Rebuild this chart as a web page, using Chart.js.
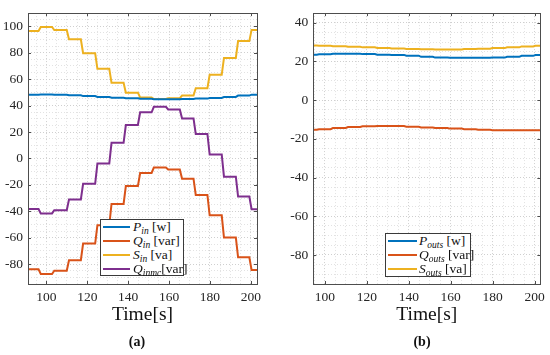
<!DOCTYPE html>
<html>
<head>
<meta charset="utf-8">
<script src="https://cdn.jsdelivr.net/npm/chart.js@4.4.1/dist/chart.umd.min.js"></script>
<style>
    body { margin: 0; background: #fff; width: 550px; height: 355px; position: relative; overflow: hidden; font-family: "Liberation Serif", serif; color: #111; }
    canvas { position: absolute; top: 0; }
    #chartA { left: 0; }
    #chartB { left: 275px; }
    .legend { position: absolute; background: #fff; border: 1px solid #3a3a3a; box-sizing: border-box; }
    .row { position: absolute; left: 0; height: 14px; width: 100%; }
    .swatch { position: absolute; top: 6px; height: 2px; }
    .lbl { position: absolute; top: 0; font-size: 13.5px; line-height: 14px; white-space: nowrap; }
    .v { font-style: italic; }
    .s { font-style: italic; font-size: 9.5px; position: relative; top: 3px; }
    .caption { position: absolute; top: 334px; font-weight: bold; font-size: 14px; transform: translateX(-50%); }
</style>
</head>
<body>
<canvas id="chartA" width="275" height="330"></canvas>
<canvas id="chartB" width="275" height="330"></canvas>

<div class="legend" id="legA" style="left:100px; top:219px; width:84px; height:57px;"></div>
<div class="legend" id="legB" style="left:385px; top:233px; width:86px; height:44px;"></div>

<div class="caption" style="left:137px;">(a)</div>
<div class="caption" style="left:422px;">(b)</div>

<script>
// 스텝 전환 시각 (s)
const stepTimes = [96.7, 103.3, 110.5, 117.4, 124.4, 131.3, 138.3, 145.3, 152.0, 159.0, 165.8, 172.5, 179.3, 186.3, 193.2, 199.8];

// (a) 입력측 - 각 구간의 값 (17 구간)
const pIn   = [48.3, 48.4, 48.2, 47.8, 47.2, 46.6, 46.0, 45.6, 45.2, 44.9, 44.8, 45.0, 45.3, 45.8, 46.6, 47.6, 48.3];
const qIn   = [-83.9, -87.4, -84.9, -77.0, -64.4, -50.5, -34.4, -20.9, -11.0, -6.9, -8.4, -15.3, -27.6, -43.0, -59.8, -74.8, -84.4];
const sIn   = [96.5, 99.5, 97.2, 90.2, 79.7, 67.8, 57.2, 49.8, 46.2, 45.0, 45.6, 47.6, 53.2, 63.3, 76.1, 88.8, 97.3];
const qInmc = [-38.2, -41.6, -39.1, -31.0, -19.2, -3.9, 11.8, 25.3, 34.9, 39.1, 37.1, 30.3, 18.5, 3.0, -13.8, -28.8, -38.4];

// (b) 출력측
const pOuts = [23.5, 23.7, 24.0, 24.0, 23.8, 23.5, 23.4, 23.0, 22.4, 22.0, 21.9, 21.9, 21.9, 22.0, 22.4, 22.9, 23.3];
const qOuts = [-15.3, -15.0, -14.4, -13.9, -13.5, -13.3, -13.4, -13.7, -14.1, -14.4, -14.7, -15.0, -15.3, -15.5, -15.6, -15.6, -15.6];
const sOuts = [28.2, 28.1, 27.9, 27.6, 27.3, 27.0, 26.7, 26.5, 26.3, 26.2, 26.2, 26.4, 26.6, 26.9, 27.3, 27.8, 28.1];

// 축 범위 / 눈금
const xRangeA = [91, 203];
const xRangeB = [94.5, 202.7];
const yRangeA = [-95, 110];
const yRangeB = [-95, 45];
const xTicks = [100, 120, 140, 160, 180, 200];
const yTicksA = [-80, -60, -40, -20, 0, 20, 40, 60, 80, 100];
const yTicksB = [-80, -60, -40, -20, 0, 20, 40];

const COLORS = {
    blue: '#0072BD',
    orange: '#D95319',
    yellow: '#EDB120',
    purple: '#7E2F8E'
};

const RAMP = 1.1;
const TICK_FONT = { family: '"Liberation Serif", serif', size: 13.5 };

/**
 * 구간 값 -> 계단형 점 목록
 */
function stepPoints(levels, range) {
    const pts = [{ x: range[0], y: levels[0] }];
    stepTimes.forEach((t, i) => {
        pts.push({ x: t - RAMP / 2, y: levels[i] });
        pts.push({ x: t + RAMP / 2, y: levels[i + 1] });
    });
    pts.push({ x: range[1], y: levels[levels.length - 1] });
    return pts;
}

// 테두리 + 안쪽 눈금 (MATLAB 스타일)
const framePlugin = {
    id: 'frame',
    afterDatasetsDraw(chart, args, opts) {
        const { ctx, chartArea: a, scales: { x, y } } = chart;
        ctx.save();
        ctx.strokeStyle = '#4d4d4d';
        ctx.lineWidth = 1;
        ctx.strokeRect(Math.round(a.left) + 0.5, Math.round(a.top) + 0.5,
            Math.round(a.right - a.left), Math.round(a.bottom - a.top));
        ctx.beginPath();
        opts.xTicks.forEach(v => {
            const px = Math.round(x.getPixelForValue(v)) + 0.5;
            ctx.moveTo(px, a.bottom); ctx.lineTo(px, a.bottom - 3);
            ctx.moveTo(px, a.top); ctx.lineTo(px, a.top + 3);
        });
        opts.yTicks.forEach(v => {
            const py = Math.round(y.getPixelForValue(v)) + 0.5;
            ctx.moveTo(a.left, py); ctx.lineTo(a.left + 3, py);
            ctx.moveTo(a.right, py); ctx.lineTo(a.right - 3, py);
        });
        ctx.stroke();
        ctx.restore();
    }
};

function makeChart(canvasId, datasets, xRange, yRange, yTicks, yWidth, rightPad) {
    const ctx = document.getElementById(canvasId).getContext('2d');
    return new Chart(ctx, {
        type: 'line',
        data: {
            datasets: datasets.map(d => ({
                data: stepPoints(d.values, xRange),
                borderColor: d.color,
                borderWidth: 2,
                pointRadius: 0,
                tension: 0,
                fill: false
            }))
        },
        options: {
            responsive: false,
            animation: false,
            parsing: false,
            layout: { padding: { left: 0, right: rightPad, top: 5, bottom: 0 } },
            plugins: {
                legend: { display: false },
                tooltip: { enabled: false },
                frame: { xTicks: xTicks, yTicks: yTicks }
            },
            scales: {
                x: {
                    type: 'linear',
                    min: xRange[0],
                    max: xRange[1],
                    afterFit: s => { s.height = 46; },
                    ticks: {
                        stepSize: 5,
                        includeBounds: false,
                        autoSkip: false,
                        maxRotation: 0,
                        padding: 5,
                        color: '#262626',
                        font: TICK_FONT,
                        callback: v => (xTicks.includes(v) ? v : '')
                    },
                    grid: {
                        drawTicks: false,
                        color: c => (c.tick && xTicks.includes(c.tick.value) ? '#cfcfcf' : '#e2e2e2')
                    },
                    border: { display: false, dash: [1, 2] },
                    title: {
                        display: true,
                        text: 'Time[s]',
                        color: '#111',
                        font: { family: '"Liberation Serif", serif', size: 19.5 },
                        padding: { top: 0, bottom: 3 }
                    }
                },
                y: {
                    type: 'linear',
                    min: yRange[0],
                    max: yRange[1],
                    afterFit: s => { s.width = yWidth; },
                    ticks: {
                        stepSize: 5,
                        includeBounds: false,
                        autoSkip: false,
                        padding: 5,
                        color: '#262626',
                        font: TICK_FONT,
                        callback: v => (yTicks.includes(v) ? v : '')
                    },
                    grid: {
                        drawTicks: false,
                        color: c => (c.tick && yTicks.includes(c.tick.value) ? '#cfcfcf' : '#e2e2e2')
                    },
                    border: { display: false, dash: [1, 2] }
                }
            }
        },
        plugins: [framePlugin]
    });
}

makeChart('chartA', [
    { values: pIn, color: COLORS.blue },
    { values: qIn, color: COLORS.orange },
    { values: sIn, color: COLORS.yellow },
    { values: qInmc, color: COLORS.purple }
], xRangeA, yRangeA, yTicksA, 28, 18);

makeChart('chartB', [
    { values: pOuts, color: COLORS.blue },
    { values: qOuts, color: COLORS.orange },
    { values: sOuts, color: COLORS.yellow }
], xRangeB, yRangeB, yTicksB, 38.3, 7.7);

// 범례 (아래 첨자 포함)
function buildLegend(id, items, swLeft, swWidth, textLeft) {
    const box = document.getElementById(id);
    items.forEach((it, i) => {
        const row = document.createElement('div');
        row.className = 'row';
        row.style.top = (i * 14) + 'px';
        row.innerHTML =
            `<div class="swatch" style="left:${swLeft}px;width:${swWidth}px;background:${it.color}"></div>` +
            `<div class="lbl" style="left:${textLeft}px"><span class="v">${it.sym}</span><span class="s">${it.sub}</span>${it.unit}</div>`;
        box.appendChild(row);
    });
}

buildLegend('legA', [
    { sym: 'P', sub: 'in', unit: '&nbsp;[w]', color: COLORS.blue },
    { sym: 'Q', sub: 'in', unit: '&nbsp;[var]', color: COLORS.orange },
    { sym: 'S', sub: 'in', unit: '&nbsp;[va]', color: COLORS.yellow },
    { sym: 'Q', sub: 'inmc', unit: '[var]', color: COLORS.purple }
], 2, 27, 32);

buildLegend('legB', [
    { sym: 'P', sub: 'outs', unit: '&nbsp;[w]', color: COLORS.blue },
    { sym: 'Q', sub: 'outs', unit: '&nbsp;[var]', color: COLORS.orange },
    { sym: 'S', sub: 'outs', unit: '&nbsp;[va]', color: COLORS.yellow }
], 2, 29, 33);
</script>
</body>
</html>
